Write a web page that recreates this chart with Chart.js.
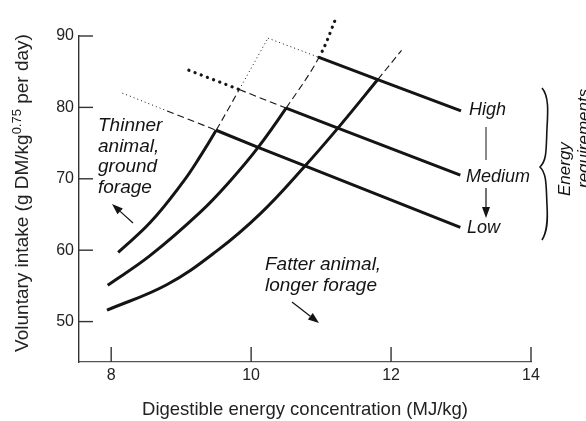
<!DOCTYPE html>
<html>
<head>
<meta charset="utf-8">
<script src="https://cdn.jsdelivr.net/npm/chart.js@4.4.1/dist/chart.umd.min.js"></script>
<style>
  html, body { margin: 0; padding: 0; background: #fff; }
  canvas { display: block; }
</style>
</head>
<body>
<canvas id="chart" width="586" height="421"></canvas>
<script>
// intake curves: digestible energy (MJ/kg) -> voluntary intake
const thinX = [8.10, 8.56, 9.03, 9.27, 9.50, 9.83, 10.24];
const thinY = [59.7, 63.9, 69.6, 73.1, 76.8, 82.5, 89.7];
const midX = [7.95, 8.55, 9.27, 9.70, 10.10, 10.50, 10.97, 11.23];
const midY = [55.1, 59.2, 65.3, 69.7, 74.4, 79.9, 87.0, 92.9];
const fatX = [7.94, 8.80, 9.51, 10.14, 10.77, 11.24, 11.81, 12.15];
const fatY = [51.6, 55.2, 59.9, 65.2, 71.8, 77.1, 83.9, 88.0];

// energy requirement lines
const highX = [10.24, 10.97, 11.81, 13.00];
const highY = [89.7, 87.0, 83.9, 79.5];
const mediumX = [9.11, 9.83, 10.50, 11.24, 12.99];
const mediumY = [85.2, 82.5, 79.9, 77.1, 70.5];
const lowX = [8.16, 8.80, 9.50, 10.10, 10.77, 12.99];
const lowY = [82.0, 79.5, 76.8, 74.4, 71.8, 63.2];

const xTicks = [8, 10, 12, 14];
const yTicks = [50, 60, 70, 80, 90];

const FONT = '"Liberation Sans", Arial, sans-serif';
const INK = '#141414';

// how each piece of a line looks
const looks = {
  solid:  { w: 3,   dash: [],         cap: 'butt' },
  dash:   { w: 1.1, dash: [7, 4],     cap: 'butt' },
  dot:    { w: 1,   dash: [1, 3],     cap: 'butt' },
  bigDot: { w: 3.2, dash: [0.1, 6.5], cap: 'round' }
};

function makeSet(xs, ys, pieces, smooth) {
  return {
    data: xs.map((x, i) => ({ x: x, y: ys[i] })),
    borderColor: INK,
    borderWidth: 3,
    pointRadius: 0,
    fill: false,
    clip: false,
    tension: smooth ? 0.4 : 0,
    capBezierPoints: false,
    segment: {
      borderWidth: c => looks[pieces[c.p0DataIndex]].w,
      borderDash: c => looks[pieces[c.p0DataIndex]].dash,
      borderCapStyle: c => looks[pieces[c.p0DataIndex]].cap
    }
  };
}

function line(ctx, x1, y1, x2, y2) {
  ctx.beginPath();
  ctx.moveTo(x1, y1);
  ctx.lineTo(x2, y2);
  ctx.stroke();
}

function arrow(ctx, x1, y1, x2, y2) {
  const a = Math.atan2(y2 - y1, x2 - x1);
  const len = 11, half = 4;
  const bx = x2 - len * Math.cos(a), by = y2 - len * Math.sin(a);
  line(ctx, x1, y1, bx, by);
  ctx.beginPath();
  ctx.moveTo(x2, y2);
  ctx.lineTo(bx + half * Math.sin(a), by - half * Math.cos(a));
  ctx.lineTo(bx - half * Math.sin(a), by + half * Math.cos(a));
  ctx.closePath();
  ctx.fill();
}

const extras = {
  id: 'extras',
  afterDraw(chart) {
    const ctx = chart.ctx;
    const x = chart.scales.x, y = chart.scales.y;
    ctx.save();
    ctx.strokeStyle = '#333';
    ctx.fillStyle = INK;
    ctx.lineWidth = 1.4;

    // inward ticks
    yTicks.forEach(v => {
      const py = y.getPixelForValue(v);
      line(ctx, x.left, py, x.left + 14, py);
    });
    xTicks.forEach(v => {
      const px = x.getPixelForValue(v);
      line(ctx, px, y.bottom, px, y.bottom - 15);
    });

    // y axis title with superscript
    ctx.save();
    ctx.translate(23, 193);
    ctx.rotate(-Math.PI / 2);
    ctx.textBaseline = 'middle';
    ctx.fillStyle = '#222';
    const parts = [
      ['Voluntary intake (g DM/kg', '19px ' + FONT, 0],
      ['0.75', '13px ' + FONT, -6],
      [' per day)', '19px ' + FONT, 0]
    ];
    let total = 0;
    parts.forEach(p => { ctx.font = p[1]; total += ctx.measureText(p[0]).width; });
    let cx = -total / 2;
    parts.forEach(p => {
      ctx.font = p[1];
      ctx.fillText(p[0], cx, p[2]);
      cx += ctx.measureText(p[0]).width;
    });
    ctx.restore();

    // annotations
    ctx.font = 'italic 19px ' + FONT;
    ctx.textBaseline = 'middle';
    ctx.textAlign = 'left';
    ['Thinner', 'animal,', 'ground', 'forage'].forEach((t, i) => ctx.fillText(t, 98, 126 + i * 20.5));
    ['Fatter animal,', 'longer forage'].forEach((t, i) => ctx.fillText(t, 265, 265 + i * 21));
    ctx.font = 'italic 18px ' + FONT;
    ctx.fillText('High', 469, 110);
    ctx.fillText('Medium', 466, 177);
    ctx.fillText('Low', 467, 228);

    ctx.lineWidth = 1.2;
    ctx.strokeStyle = INK;
    arrow(ctx, 133, 223, 112, 204);
    arrow(ctx, 292, 302, 319, 323);
    arrow(ctx, 486, 188, 486, 218);
    ctx.lineWidth = 1;
    line(ctx, 486, 127, 486, 160);

    // brace
    ctx.lineWidth = 1.6;
    ctx.beginPath();
    ctx.moveTo(542, 88);
    ctx.bezierCurveTo(549, 96, 548, 112, 547, 128);
    ctx.bezierCurveTo(546, 150, 547, 160, 540, 167);
    ctx.bezierCurveTo(547, 174, 546, 186, 547, 205);
    ctx.bezierCurveTo(548, 222, 547, 232, 542, 240);
    ctx.stroke();

    // rotated label
    ctx.save();
    ctx.translate(565, 196);
    ctx.rotate(-Math.PI / 2);
    ctx.font = 'italic 17px ' + FONT;
    ctx.textAlign = 'left';
    ctx.fillText('Energy', 0, 0);
    ctx.fillText('requirements', 8, 19);
    ctx.restore();

    ctx.restore();
  }
};

const solid = n => Array(n).fill('solid');

new Chart(document.getElementById('chart'), {
  type: 'line',
  data: {
    datasets: [
      makeSet(thinX, thinY, solid(4).concat(['dash', 'dot']), true),
      makeSet(midX, midY, solid(5).concat(['dash', 'bigDot']), true),
      makeSet(fatX, fatY, solid(6).concat(['dash']), true),
      makeSet(highX, highY, ['dot', 'solid', 'solid'], false),
      makeSet(mediumX, mediumY, ['bigDot', 'dash', 'solid', 'solid'], false),
      makeSet(lowX, lowY, ['dot', 'dash', 'solid', 'solid', 'solid'], false)
    ]
  },
  options: {
    responsive: false,
    animation: false,
    layout: { padding: { top: 36, right: 55, bottom: 0, left: 0 } },
    plugins: { legend: { display: false }, tooltip: { enabled: false } },
    scales: {
      x: {
        type: 'linear',
        min: 7.54,
        max: 14,
        afterBuildTicks: s => { s.ticks = xTicks.map(v => ({ value: v })); },
        afterFit: s => { s.height = 59; },
        grid: { display: true, drawOnChartArea: false, drawTicks: false },
        border: { display: true, color: '#555', width: 1.2 },
        ticks: { color: '#222', padding: 4, maxRotation: 0, font: { family: FONT, size: 16 } },
        title: {
          display: true,
          text: 'Digestible energy concentration (MJ/kg)',
          color: '#222',
          font: { family: FONT, size: 18.5 },
          padding: { top: 0, bottom: 0 }
        }
      },
      y: {
        type: 'linear',
        min: 44.34,
        max: 90,
        afterBuildTicks: s => { s.ticks = yTicks.map(v => ({ value: v })); },
        afterFit: s => { s.width = 79; },
        grid: { display: true, drawOnChartArea: false, drawTicks: false },
        border: { display: true, color: '#333', width: 1.4 },
        ticks: { color: '#222', padding: 5, font: { family: FONT, size: 16 } }
      }
    }
  },
  plugins: [extras]
});
</script>
</body>
</html>
